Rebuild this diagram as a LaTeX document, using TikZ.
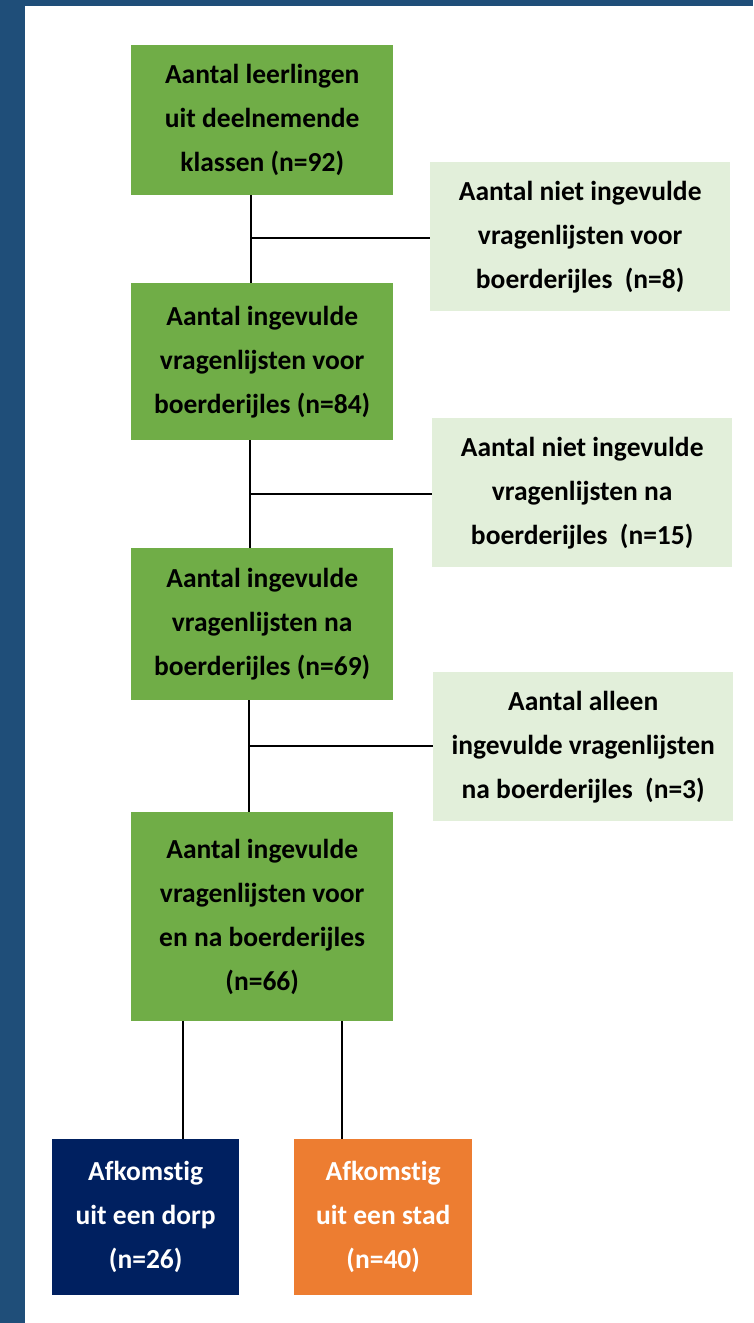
\documentclass[tikz,border=0pt]{standalone}
\usepackage{fontspec}
\setmainfont{Carlito}[Ligatures=CommonOff]
\definecolor{frameblue}{HTML}{1F4E79}
\definecolor{mygreen}{HTML}{70AD47}
\definecolor{lightgreen}{HTML}{E2EFDA}
\definecolor{navy}{HTML}{002060}
\definecolor{myorange}{HTML}{ED7D31}
\tikzset{
  box/.style={anchor=north west, inner sep=0pt, align=center,
    font=\fontsize{27.5}{44}\selectfont\bfseries, text=black},
  mainbox/.style={box, fill=mygreen},
  sidebox/.style={box, fill=lightgreen},
  link/.style={draw=black, line width=1.5pt}
}
\begin{document}
\begin{tikzpicture}[x=1pt,y=-1pt]
\useasboundingbox (0,0) rectangle (753,1323);
\fill[frameblue] (0,0) rectangle (753,1323);
\fill[white] (25,6) rectangle (753,1323);

\node[mainbox, minimum width=262pt, minimum height=150pt] (b1) at (131,45)
  {Aantal leerlingen\\uit deelnemende\\klassen (n=92)};
\node[sidebox, minimum width=300pt, minimum height=149pt] (s1) at (430,162)
  {Aantal niet ingevulde\\vragenlijsten voor\\boerderijles\ \ (n=8)};
\node[mainbox, minimum width=262pt, minimum height=157pt] (b2) at (131,283)
  {Aantal ingevulde\\vragenlijsten voor\\boerderijles (n=84)};
\node[sidebox, minimum width=300pt, minimum height=149pt] (s2) at (432,418)
  {Aantal niet ingevulde\\vragenlijsten na\\boerderijles\ \ (n=15)};
\node[mainbox, minimum width=262pt, minimum height=152pt] (b3) at (131,548)
  {Aantal ingevulde\\vragenlijsten na\\boerderijles (n=69)};
\node[sidebox, minimum width=300pt, minimum height=149pt] (s3) at (433,672)
  {Aantal alleen\\ingevulde vragenlijsten\\na boerderijles\ \ (n=3)};
\node[mainbox, minimum width=262pt, minimum height=209pt] (b4) at (131,812)
  {Aantal ingevulde\\vragenlijsten voor\\en na boerderijles\\(n=66)};
\node[box, fill=navy, text=white, minimum width=187pt, minimum height=156pt] (dorp) at (52,1139)
  {Afkomstig\\uit een dorp\\(n=26)};
\node[box, fill=myorange, text=white, minimum width=178pt, minimum height=156pt] (stad) at (294,1139)
  {Afkomstig\\uit een stad\\(n=40)};

\coordinate (j1) at (251,238);
\coordinate (j2) at (250,494);
\coordinate (j3) at (249,746);
\coordinate (k1) at (183,1100);
\coordinate (k2) at (342,1100);

\draw[link] (b1.south -| j1) -- (b2.north -| j1);
\draw[link] (j1) -- (s1.west |- j1);
\draw[link] (b2.south -| j2) -- (b3.north -| j2);
\draw[link] (j2) -- (s2.west |- j2);
\draw[link] (b3.south -| j3) -- (b4.north -| j3);
\draw[link] (j3) -- (s3.west |- j3);
\draw[link] (b4.south -| k1) -- (dorp.north -| k1);
\draw[link] (b4.south -| k2) -- (stad.north -| k2);
\end{tikzpicture}
\end{document}
